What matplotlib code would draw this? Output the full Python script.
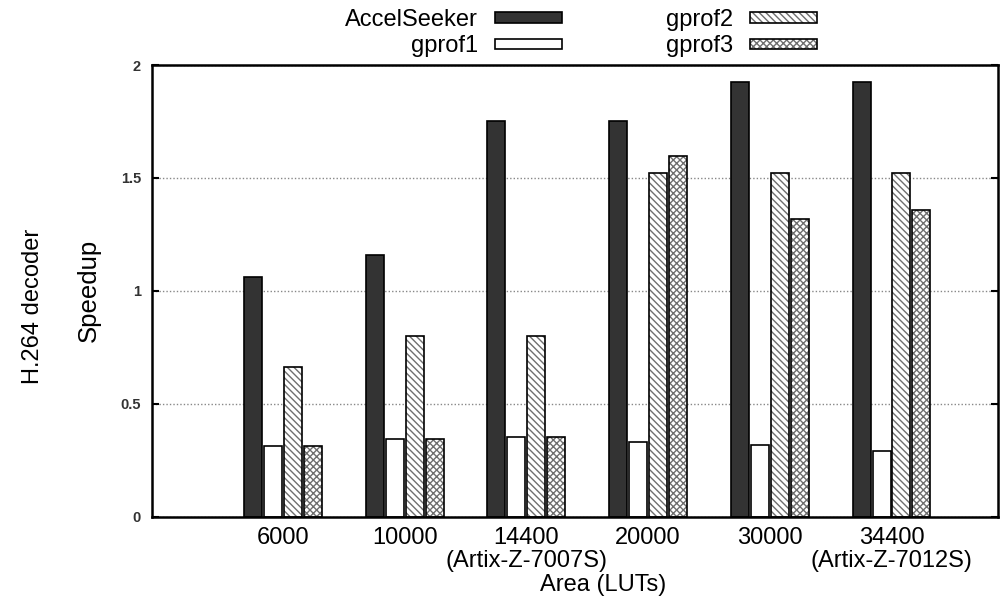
import matplotlib
matplotlib.use("Agg")
import matplotlib.pyplot as plt
import numpy as np
from matplotlib.patches import Patch
from matplotlib.legend_handler import HandlerTuple

plt.rcParams['font.family'] = ['Liberation Sans', 'DejaVu Sans']

categories = ["6000", "10000", "14400\n(Artix-Z-7007S)", "20000", "30000", "34400\n(Artix-Z-7012S)"]
series_names = ["AccelSeeker", "gprof1", "gprof2", "gprof3"]
accelseeker = [1.06, 1.16, 1.75, 1.75, 1.925, 1.925]
gprof1 = [0.314, 0.345, 0.354, 0.332, 0.319, 0.292]
gprof2 = [0.664, 0.80, 0.80, 1.52, 1.52, 1.52]
gprof3 = [0.314, 0.345, 0.354, 1.597, 1.32, 1.36]

fig = plt.figure(figsize=(10.02, 5.98), dpi=100)
ax = fig.add_axes([0.1517, 0.1355, 0.8443, 0.7558])

x = np.arange(len(categories))
w = 0.148
step = 0.164
offsets = [-1.5 * step, -0.5 * step, 0.5 * step, 1.5 * step]

styles = [
    dict(face="#333333", hatch=None, hcol="#333333"),
    dict(face="white", hatch=None, hcol="black"),
    dict(face="white", hatch="\\\\\\\\\\", hcol="#6f6f6f"),
    dict(face="white", hatch="xxxxx", hcol="#6f6f6f"),
]
data = [accelseeker, gprof1, gprof2, gprof3]
handles = []
for vals, off, st, name in zip(data, offsets, styles, series_names):
    if st["hatch"]:
        ax.bar(x + off, vals, w, color=st["face"], edgecolor=st["hcol"], hatch=st["hatch"], linewidth=0, zorder=2)
    else:
        ax.bar(x + off, vals, w, color=st["face"], linewidth=0, zorder=2)
    ax.bar(x + off, vals, w, fill=False, edgecolor="black", linewidth=1.2, zorder=3)
    p1 = Patch(facecolor=st["face"], edgecolor=st["hcol"], hatch=st["hatch"], linewidth=0)
    p2 = Patch(fill=False, edgecolor="black", linewidth=1.2)
    handles.append((p1, p2))

ax.set_xlim(-1.076, 5.875)
ax.set_ylim(0, 2)
ax.set_yticks([0, 0.5, 1, 1.5, 2])
ax.set_yticklabels(["0", "0.5", "1", "1.5", "2"], fontsize=10.5, fontweight='bold', color='#333333')
ax.set_xticks(x)
ax.set_xticklabels(categories, fontsize=17, linespacing=1.05)
ax.tick_params(axis='x', length=0, pad=7)
ax.tick_params(axis='y', direction='in', length=5, width=1.5, right=True, pad=8)
ax.yaxis.grid(True, linestyle=(0, (1, 1.5)), color="#888888", linewidth=1)
ax.set_axisbelow(True)
for s in ax.spines.values():
    s.set_linewidth(1.8)

fig.text(89 / 1002, 1 - 290 / 598, "Speedup", rotation=90, fontsize=18.5, ha='center', va='center')
fig.text(33 / 1002, 1 - 306 / 598, "H.264 decoder", rotation=90, fontsize=17, ha='center', va='center')
fig.text(603 / 1002, 1 - 585 / 598, "Area (LUTs)", fontsize=17, ha='center', va='center')

common = dict(frameon=False, markerfirst=False, fontsize=17, handlelength=2.84, handleheight=0.3,
              labelspacing=0.18, handletextpad=0.72, borderpad=0, borderaxespad=0,
              handler_map={tuple: HandlerTuple(ndivide=1, pad=0)})
leg1 = fig.legend(handles[:2], series_names[:2], loc='upper right',
                  bbox_to_anchor=(562 / 1002, 1 - 9 / 598), **common)
leg2 = fig.legend(handles[2:], series_names[2:], loc='upper right',
                  bbox_to_anchor=(817 / 1002, 1 - 9 / 598), **common)

fig.savefig("out.png", dpi=100)
